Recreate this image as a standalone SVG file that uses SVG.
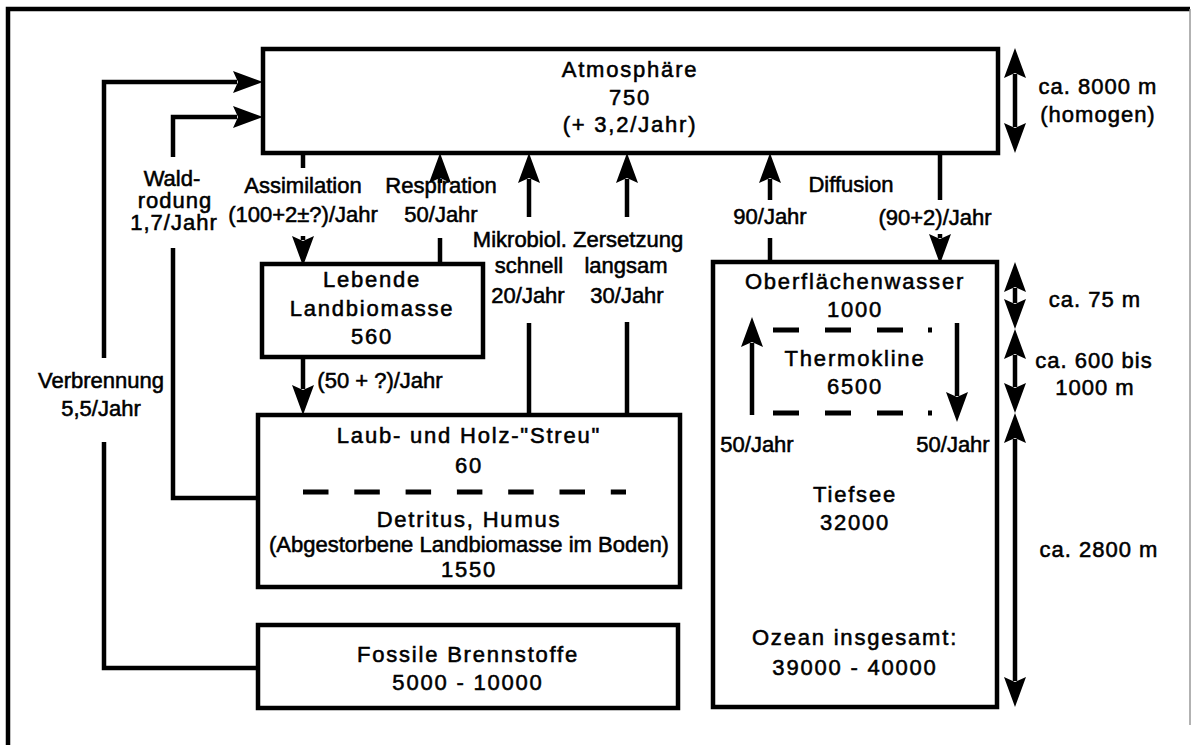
<svg xmlns="http://www.w3.org/2000/svg" width="1192" height="745" viewBox="0 0 1192 745">
<defs>
<style>
.box{fill:#fff;stroke:#000;stroke-width:4.5}
.ln{fill:none;stroke:#000;stroke-width:4.5}
.ar{fill:none;stroke:#000;stroke-width:4.5;marker-end:url(#ah)}
.dim{fill:none;stroke:#000;stroke-width:4.5;marker-start:url(#ah);marker-end:url(#ah)}
.dash{fill:none;stroke:#000;stroke-width:5}
text{font-family:"Liberation Sans",Arial,Helvetica,sans-serif;font-size:22px;fill:#000;stroke:#000;stroke-width:0.55;text-anchor:middle}
.b{letter-spacing:1.8px}
.s{letter-spacing:1px}
</style>
<marker id="ah" markerUnits="userSpaceOnUse" markerWidth="32" markerHeight="24" refX="4" refY="11" orient="auto-start-reverse">
<path d="M0,0 L30,11 L0,22 L5,11 z" fill="#000"/>
</marker>
</defs>
<rect width="1192" height="745" fill="#fff"/>
<g id="frame">
<path d="M8,745 V9 H1190" class="ln" stroke-width="4"/>
<path d="M1190,9 V725" fill="none" stroke="#999" stroke-width="1.5"/>
</g>
<g id="atmosphaere">
<rect class="box" x="263" y="49" width="735" height="104"/>
<text x="630" y="77" class="b">Atmosphäre</text>
<text x="630" y="105" class="b">750</text>
<text x="630" y="132" class="b">(+ 3,2/Jahr)</text>
</g>
<g id="lebende">
<rect class="box" x="262" y="264" width="221" height="93"/>
<text x="372" y="287" class="b">Lebende</text>
<text x="372" y="316" class="b">Landbiomasse</text>
<text x="372" y="344" class="b">560</text>
</g>
<g id="streu">
<rect class="box" x="258" y="415" width="422" height="172"/>
<text x="469" y="443" class="b">Laub- und Holz-"Streu"</text>
<text x="469" y="473" class="b">60</text>
<path class="dash" d="M303,492 H626" stroke-dasharray="25.5 25.8"/>
<text x="469" y="527" class="b">Detritus, Humus</text>
<text x="469" y="552">(Abgestorbene Landbiomasse im Boden)</text>
<text x="469" y="577" class="b">1550</text>
</g>
<g id="fossil">
<rect class="box" x="258" y="625" width="420" height="83"/>
<text x="468" y="662" class="b">Fossile Brennstoffe</text>
<text x="468" y="690" class="b">5000 - 10000</text>
</g>
<g id="ozean">
<rect class="box" x="713" y="262" width="284" height="445"/>
<text x="855" y="289" class="b">Oberflächenwasser</text>
<text x="855" y="317" class="b">1000</text>
<path class="dash" d="M773,330 H903 M928,330 H932" stroke-dasharray="26 26"/>
<text x="855" y="366" class="b">Thermokline</text>
<text x="855" y="394" class="b">6500</text>
<path class="dash" d="M773,413 H903 M928,413 H932" stroke-dasharray="26 26"/>
<text x="855" y="502" class="b">Tiefsee</text>
<text x="855" y="530" class="b">32000</text>
<text x="855" y="645" class="b">Ozean insgesamt:</text>
<text x="855" y="675" class="b">39000 - 40000</text>
</g>
<g id="connectors">
<path class="ln" d="M258,668 H104 V442"/>
<path class="ar" d="M104,358 V82 H237"/>
<path class="ln" d="M258,498 H173 V248"/>
<path class="ar" d="M173,157 V117 H237"/>
<path class="ln" d="M303,153 V168"/>
<path class="ar" d="M303,236 V240"/>
<path class="ln" d="M440,264 V238"/>
<path class="ar" d="M440,183 V179"/>
<path class="ar" d="M529,217 V179"/>
<path class="ln" d="M529,323 V415"/>
<path class="ar" d="M627,217 V179"/>
<path class="ln" d="M627,322 V415"/>
<path class="ar" d="M770,200 V179"/>
<path class="ln" d="M770,238 V262"/>
<path class="ln" d="M940,153 V200"/>
<path class="ar" d="M940,234 V238"/>
<path class="ar" d="M303,357 V389"/>
<path class="ar" d="M752,415 V343"/>
<path class="ar" d="M957,323 V396"/>
<path class="dim" d="M1015,74 V127"/>
<path class="dim" d="M1015,288 V303"/>
<path class="dim" d="M1015,355 V387"/>
<path class="dim" d="M1015,439 V681"/>
</g>
<g id="labels">
<text x="172" y="186">Wald-</text>
<text x="175" y="208" class="s">rodung</text>
<text x="174" y="230" class="s">1,7/Jahr</text>
<text x="303" y="193">Assimilation</text>
<text x="303" y="222">(100+2±?)/Jahr</text>
<text x="441" y="193">Respiration</text>
<text x="441" y="222">50/Jahr</text>
<text x="578" y="247">Mikrobiol. Zersetzung</text>
<text x="529" y="273">schnell</text>
<text x="626" y="273">langsam</text>
<text x="528" y="303">20/Jahr</text>
<text x="627" y="303">30/Jahr</text>
<text x="851" y="192">Diffusion</text>
<text x="770" y="224">90/Jahr</text>
<text x="935" y="225">(90+2)/Jahr</text>
<text x="380" y="388">(50 + ?)/Jahr</text>
<text x="101" y="388">Verbrennung</text>
<text x="101" y="416">5,5/Jahr</text>
<text x="757" y="452">50/Jahr</text>
<text x="953" y="452">50/Jahr</text>
<text x="1098" y="94" class="s">ca. 8000 m</text>
<text x="1098" y="122" class="s">(homogen)</text>
<text x="1095" y="307" class="s">ca. 75 m</text>
<text x="1094" y="368" class="s">ca. 600 bis</text>
<text x="1095" y="395" class="s">1000 m</text>
<text x="1099" y="557" class="s">ca. 2800 m</text>
</g>
</svg>
